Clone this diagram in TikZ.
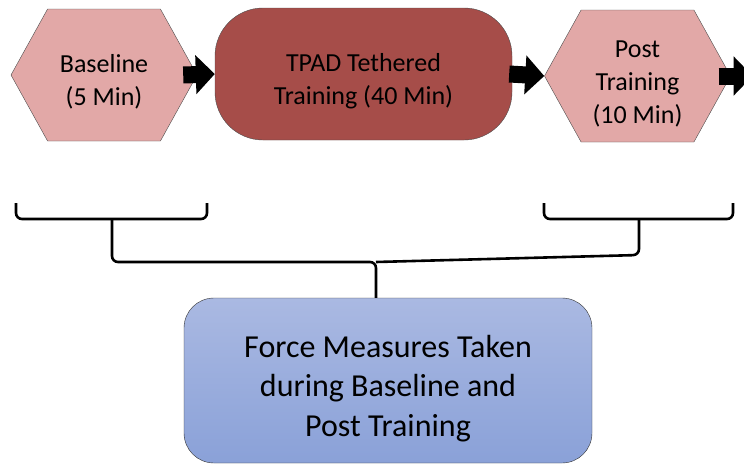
\documentclass[tikz,border=0pt]{standalone}
\usepackage{fontspec}
\setmainfont{Carlito}
\usetikzlibrary{shapes.symbols,arrows.meta,positioning}
\definecolor{phasepink}{RGB}{226,168,167}
\definecolor{tpadred}{RGB}{166,77,73}
\definecolor{forcetop}{RGB}{170,185,226}
\definecolor{forcebot}{RGB}{138,161,216}
\def\LiftTop{\rule{0pt}{32pt}}
\def\LiftBox{\rule{0pt}{38pt}}

\begin{document}
\begin{tikzpicture}[x=1pt,y=-1pt,
  phase/.style={signal, signal to=west and east, signal pointer angle=122,
    draw=black!70, fill=phasepink, minimum width=186pt, minimum height=132pt,
    inner sep=0pt, align=center, font=\fontsize{26}{33}\selectfont},
  train/.style={rectangle, rounded corners=48pt, draw=black!70, fill=tpadred,
    minimum width=297pt, minimum height=132pt, align=center,
    font=\fontsize{26}{33}\selectfont},
  measure/.style={rectangle, rounded corners=30pt, draw=black!80,
    top color=forcetop, bottom color=forcebot, minimum width=408pt,
    minimum height=165pt, align=center, font=\fontsize{32}{39.5}\selectfont},
  flow/.style={line width=17pt, -{Triangle[width=38pt,length=19pt]}},
  bracket/.style={line width=2.6pt, rounded corners=6pt}]
  \useasboundingbox (0,0) rectangle (744,464);
  \clip (0,0) rectangle (744,464);
  % phases
  \node[phase] (base) at (104,75) {\LiftTop Baseline\\(5 Min)};
  \node[train] (tpad) at (363.5,74) {\LiftTop TPAD Tethered\\Training (40 Min)};
  \node[phase] (post) at (637.5,76) {\LiftTop Post\\Training\\(10 Min)};
  \coordinate[right=22pt of post.east] (exit);
  % arrows
  \draw[flow] ([xshift=-14pt]base.east) -- (tpad.west);
  \draw[flow] ([xshift=-3pt]tpad.east) -- (post.west);
  \draw[flow] ([xshift=-12pt]post.east) -- (exit);
  % measures
  \node[measure] (force) at (388,380.5) {\LiftBox Force Measures Taken\\during Baseline and\\Post Training};
  % brackets
  \coordinate (lj) at (112,219);
  \coordinate (rj) at (639,219);
  \coordinate (hub) at (376,262);
  \draw[bracket] (16,203) |- (lj) -| (207,203);
  \draw[bracket] (544,203) |- (rj) -| (733,203);
  \draw[bracket] (lj) |- (hub) -- (hub |- force.north);
  \draw[bracket] (rj) -- (639,255) -- (hub);
\end{tikzpicture}
\end{document}
